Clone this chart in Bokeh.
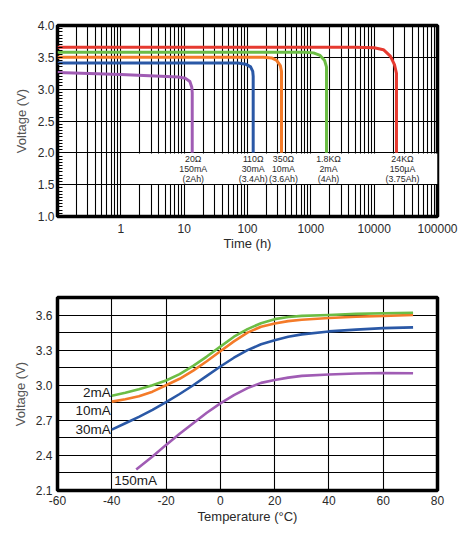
from bokeh.plotting import figure
from bokeh.models import FixedTicker, NumeralTickFormatter, BasicTickFormatter, BoxAnnotation
from bokeh.layouts import column
from bokeh.embed import file_html
from bokeh.resources import INLINE
from bokeh.core.properties import value

FONT = "Liberation Sans"
TXT = "#2a2a2a"
PURPLE = "#A05CB4"
BLUE = "#2A58A6"
ORANGE = "#F47B29"
GREEN = "#6CBD45"
RED = "#E63A30"

# ---------------- top chart data: discharge curves ----------------
time_ticks = [1, 10, 100, 1000, 10000, 100000]
volt_ticks_top = [1.0, 1.5, 2.0, 2.5, 3.0, 3.5, 4.0]

purple_t = [0.1, 1, 8, 10.5, 12.3, 13.2, 13.4, 13.4]
purple_v = [3.26, 3.23, 3.19, 3.17, 3.12, 3.03, 2.95, 2.0]
blue_t = [0.1, 70, 95, 112, 121, 123, 123]
blue_v = [3.41, 3.41, 3.39, 3.35, 3.28, 3.2, 2.0]
orange_t = [0.1, 180, 240, 290, 330, 344, 344]
orange_v = [3.50, 3.50, 3.49, 3.45, 3.37, 3.28, 2.0]
green_t = [0.1, 800, 1100, 1400, 1650, 1767, 1767]
green_v = [3.58, 3.58, 3.57, 3.53, 3.45, 3.35, 2.0]
red_t = [0.1, 5000, 10000, 14000, 18000, 21000, 22500, 22500]
red_v = [3.66, 3.66, 3.65, 3.62, 3.52, 3.38, 3.25, 2.0]

load_labels = ["20\u03a9\n150mA\n(2Ah)", "110\u03a9\n30mA\n(3.4Ah)", "350\u03a9\n10mA\n(3.6Ah)",
               "1.8K\u03a9\n2mA\n(4Ah)", "24K\u03a9\n150\u00b5A\n(3.75Ah)"]
load_cutoff_t = [13.4, 123, 344, 1767, 22500]
cutoff_v = 2.0

# ---------------- bottom chart data: voltage vs temperature ----------------
temp_ticks = [-60, -40, -20, 0, 20, 40, 60, 80]
volt_ticks_bot = [2.1, 2.4, 2.7, 3.0, 3.3, 3.6]

temps = [-40, -35, -30, -25, -20, -15, -10, -5, 0, 5, 10, 15, 20, 25, 30, 40, 50, 60, 71]
v_2ma = [2.91, 2.935, 2.965, 3.0, 3.04, 3.095, 3.165, 3.245, 3.33, 3.415, 3.48, 3.53, 3.565,
         3.583, 3.593, 3.60, 3.61, 3.615, 3.62]
v_10ma = [2.86, 2.88, 2.905, 2.945, 3.0, 3.055, 3.125, 3.205, 3.29, 3.375, 3.45, 3.50, 3.528,
          3.548, 3.56, 3.575, 3.585, 3.593, 3.60]
v_30ma = [2.62, 2.675, 2.73, 2.79, 2.855, 2.925, 3.0, 3.08, 3.16, 3.235, 3.30, 3.35, 3.385,
          3.415, 3.435, 3.46, 3.475, 3.488, 3.495]
temps_150 = [-31, -25, -20, -15, -10, -5, 0, 5, 10, 15, 20, 25, 30, 40, 50, 60, 71]
v_150ma = [2.28, 2.39, 2.49, 2.585, 2.675, 2.765, 2.845, 2.915, 2.975, 3.02, 3.045, 3.065, 3.08,
           3.092, 3.10, 3.105, 3.103]
current_labels = ["2mA", "10mA", "30mA", "150mA"]


def style_common(p):
    p.outline_line_color = "black"
    p.outline_line_width = 3.5
    p.background_fill_color = "white"
    p.border_fill_color = "white"
    for ax in (p.xaxis[0], p.yaxis[0]):
        ax.axis_line_color = None
        ax.major_tick_out = 0
        ax.major_tick_in = 0
        ax.minor_tick_out = 0
        ax.minor_tick_in = 0
        ax.major_label_text_font = FONT
        ax.major_label_text_font_size = "12px"
        ax.major_label_text_color = TXT
        ax.axis_label_text_font = FONT
        ax.axis_label_text_font_size = "13px"
        ax.axis_label_text_font_style = "normal"
    p.xgrid.grid_line_color = "black"
    p.ygrid.grid_line_color = "black"
    p.xgrid.grid_line_width = 1.1
    p.ygrid.grid_line_width = 1.1


# ---------------- top figure ----------------
p1 = figure(width=463, height=268, x_axis_type="log", x_range=(0.1, 100000), y_range=(1.0, 4.0),
            output_backend="svg", toolbar_location=None,
            min_border_left=57, min_border_right=26, min_border_top=25, min_border_bottom=52)
style_common(p1)
minor_t = [m * 10.0 ** e for e in range(-1, 5) for m in range(2, 10)]
p1.xaxis.ticker = FixedTicker(ticks=time_ticks, minor_ticks=minor_t)
p1.xgrid.ticker = FixedTicker(ticks=time_ticks, minor_ticks=minor_t)
p1.xgrid.minor_grid_line_color = "black"
p1.xgrid.minor_grid_line_width = 1.1
p1.xaxis.formatter = BasicTickFormatter(use_scientific=False)
p1.yaxis.ticker = FixedTicker(ticks=volt_ticks_top, minor_ticks=[round(1.0 + 0.05 * k, 2) for k in range(61)])
p1.yaxis.formatter = NumeralTickFormatter(format="0.0")
p1.yaxis.minor_tick_in = 5
p1.yaxis.minor_tick_line_color = "black"
p1.xaxis.axis_label = "Time (h)"
p1.xaxis.axis_label_text_color = TXT
p1.xaxis.major_label_standoff = 7
p1.xaxis.axis_label_standoff = 0
p1.yaxis.axis_label = "Voltage (V)"
p1.yaxis.axis_label_text_color = "#555555"
p1.yaxis.major_label_standoff = 3
p1.yaxis.axis_label_standoff = 6

p1.add_layout(BoxAnnotation(left=1.83, bottom=1.51, top=1.99, fill_color="white", fill_alpha=1.0,
                            line_color=None, level="underlay"))

for t, v, c in [(purple_t, purple_v, PURPLE), (blue_t, blue_v, BLUE), (orange_t, orange_v, ORANGE),
                (green_t, green_v, GREEN), (red_t, red_v, RED)]:
    p1.line(t, v, line_color=c, line_width=3, line_join="round")

p1.text(x=load_cutoff_t, y=[cutoff_v] * len(load_cutoff_t), text=load_labels,
        text_align="center", text_baseline="top", y_offset=1, x_offset=[1, 0, 2, 2, 6],
        text_font=value(FONT), text_font_size="8.8px", text_color=TXT, text_line_height=1.0)

# ---------------- bottom figure ----------------
p2 = figure(width=463, height=262, x_range=(-60, 80), y_range=(2.1, 3.75),
            output_backend="svg", toolbar_location=None,
            min_border_left=56, min_border_right=26, min_border_top=29, min_border_bottom=40)
style_common(p2)
p2.xaxis.ticker = FixedTicker(ticks=temp_ticks)
p2.xgrid.ticker = FixedTicker(ticks=temp_ticks)
p2.xaxis.formatter = NumeralTickFormatter(format="0")
p2.yaxis.ticker = FixedTicker(ticks=volt_ticks_bot)
p2.ygrid.ticker = FixedTicker(ticks=[round(2.1 + 0.15 * k, 2) for k in range(12)])
p2.yaxis.formatter = NumeralTickFormatter(format="0.0")
p2.xaxis.axis_label = "Temperature (\u00b0C)"
p2.xaxis.axis_label_text_color = TXT
p2.xaxis.major_label_standoff = 5
p2.xaxis.axis_label_standoff = 1
p2.yaxis.axis_label = "Voltage (V)"
p2.yaxis.axis_label_text_color = "#555555"
p2.yaxis.major_label_standoff = 5
p2.yaxis.axis_label_standoff = 5

p2.line(temps, v_30ma, line_color=BLUE, line_width=2.6, line_join="round")
p2.line(temps_150, v_150ma, line_color=PURPLE, line_width=2.6, line_join="round")
p2.line(temps, v_10ma, line_color=ORANGE, line_width=2.6, line_join="round")
p2.line(temps, v_2ma, line_color=GREEN, line_width=2.6, line_join="round")

# current labels anchored at each curve's first point
p2.text(x=[temps[0], temps[0], temps[0]], y=[v_2ma[0], v_10ma[0], v_30ma[0]], text=current_labels[:3],
        text_align="right", text_baseline="middle", x_offset=-1, y_offset=[-3, 9, 0],
        text_font=value(FONT), text_font_size="13.5px", text_color="#1a1a1a")
p2.text(x=[temps_150[0]], y=[v_150ma[0]], text=current_labels[3:],
        text_align="left", text_baseline="middle", x_offset=-22, y_offset=11,
        text_font=value(FONT), text_font_size="13.5px", text_color="#1a1a1a")

layout = column(p1, p2, spacing=0)
open("out.html", "w").write(file_html(layout, INLINE))
